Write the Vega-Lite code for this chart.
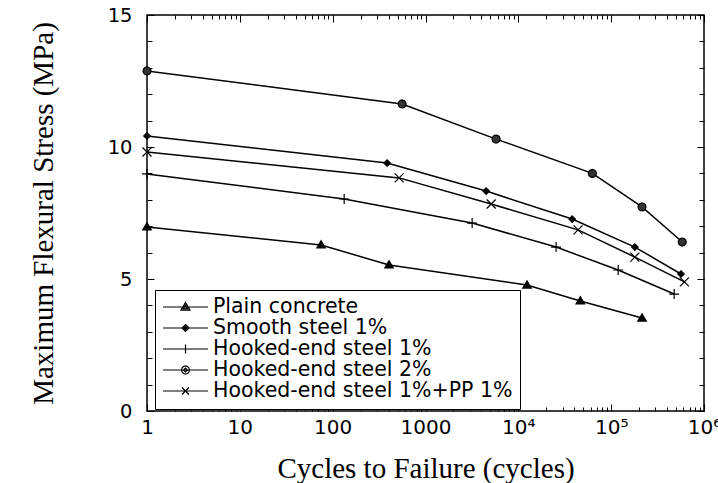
{
  "$schema": "https://vega.github.io/schema/vega-lite/v6.json",
  "width": 557,
  "height": 396,
  "autosize": {"type": "none"},
  "padding": {"left": 147, "top": 15, "right": 14, "bottom": 72},
  "background": "white",
  "config": {
    "view": {"stroke": "black", "strokeWidth": 1.5},
    "axis": {"domain": false, "grid": false, "tickColor": "black", "labelColor": "black", "titleColor": "black", "tickWidth": 1}
  },
  "data": {
    "values": [
      {"series": "Plain concrete", "cycles": 1, "stress": 6.97},
      {"series": "Plain concrete", "cycles": 75, "stress": 6.29},
      {"series": "Plain concrete", "cycles": 405, "stress": 5.53},
      {"series": "Plain concrete", "cycles": 12400, "stress": 4.77},
      {"series": "Plain concrete", "cycles": 46500, "stress": 4.17},
      {"series": "Plain concrete", "cycles": 215000, "stress": 3.52},
      {"series": "Smooth steel 1%", "cycles": 1, "stress": 10.42},
      {"series": "Smooth steel 1%", "cycles": 386, "stress": 9.39},
      {"series": "Smooth steel 1%", "cycles": 4500, "stress": 8.33},
      {"series": "Smooth steel 1%", "cycles": 38000, "stress": 7.27},
      {"series": "Smooth steel 1%", "cycles": 180000, "stress": 6.21},
      {"series": "Smooth steel 1%", "cycles": 565000, "stress": 5.19},
      {"series": "Hooked-end steel 1%", "cycles": 1, "stress": 8.98},
      {"series": "Hooked-end steel 1%", "cycles": 133, "stress": 8.03},
      {"series": "Hooked-end steel 1%", "cycles": 3180, "stress": 7.12},
      {"series": "Hooked-end steel 1%", "cycles": 25500, "stress": 6.21},
      {"series": "Hooked-end steel 1%", "cycles": 119000, "stress": 5.34},
      {"series": "Hooked-end steel 1%", "cycles": 477000, "stress": 4.43},
      {"series": "Hooked-end steel 2%", "cycles": 1, "stress": 12.88},
      {"series": "Hooked-end steel 2%", "cycles": 560, "stress": 11.63},
      {"series": "Hooked-end steel 2%", "cycles": 5760, "stress": 10.3},
      {"series": "Hooked-end steel 2%", "cycles": 62700, "stress": 9.0},
      {"series": "Hooked-end steel 2%", "cycles": 215000, "stress": 7.73},
      {"series": "Hooked-end steel 2%", "cycles": 583000, "stress": 6.4},
      {"series": "Hooked-end steel 1%+PP 1%", "cycles": 1, "stress": 9.81},
      {"series": "Hooked-end steel 1%+PP 1%", "cycles": 520, "stress": 8.83},
      {"series": "Hooked-end steel 1%+PP 1%", "cycles": 5100, "stress": 7.84},
      {"series": "Hooked-end steel 1%+PP 1%", "cycles": 44000, "stress": 6.86},
      {"series": "Hooked-end steel 1%+PP 1%", "cycles": 180000, "stress": 5.83},
      {"series": "Hooked-end steel 1%+PP 1%", "cycles": 615000, "stress": 4.89}
    ]
  },
  "layer": [
    {
      "mark": {"type": "line", "color": "black", "strokeWidth": 1.5},
      "encoding": {
        "x": {
          "field": "cycles", "type": "quantitative",
          "scale": {"type": "log", "domain": [1, 1000000], "nice": false},
          "axis": {
            "orient": "bottom", "values": [1, 10, 100, 1000, 10000, 100000, 1000000],
            "tickSize": -7, "labelFont": "DejaVu Sans", "labelFontSize": 20, "labelPadding": 13,
            "labelFlush": false, "labelOverlap": false,
            "labelExpr": "datum.value < 5000 ? format(datum.value, 'd') : '10' + (datum.value < 50000 ? '⁴' : datum.value < 500000 ? '⁵' : '⁶')",
            "title": "Cycles to Failure (cycles)", "titleFont": "Liberation Serif", "titleFontSize": 29,
            "titleFontWeight": "normal", "titleBaseline": "alphabetic", "titleY": 66
          }
        },
        "y": {
          "field": "stress", "type": "quantitative",
          "scale": {"domain": [0, 15], "nice": false, "zero": true},
          "axis": {
            "orient": "left", "values": [0, 5, 10, 15], "tickSize": -7,
            "labelFont": "DejaVu Sans", "labelFontSize": 19.5, "labelPadding": 22,
            "labelFlush": false, "labelOverlap": false,
            "title": "Maximum Flexural Stress (MPa)", "titleFont": "Liberation Serif", "titleFontSize": 29,
            "titleFontWeight": "normal", "titleX": -104, "titleY": 198, "titleBaseline": "middle", "titleAlign": "center", "titleAngle": -90
          }
        },
        "detail": {"field": "series"}
      }
    },
    {
      "transform": [{"filter": "datum.series == 'Plain concrete'"}],
      "mark": {"type": "point", "shape": "M0,-0.85L0.85,0.6L-0.85,0.6Z", "filled": true, "fill": "black", "stroke": "black", "strokeWidth": 1.2, "opacity": 1, "size": 100},
      "encoding": {
        "x": {"field": "cycles", "type": "quantitative",
          "axis": {"orient": "top", "values": [1, 10, 100, 1000, 10000, 100000, 1000000], "tickSize": -7, "labels": false, "title": null}},
        "y": {"field": "stress", "type": "quantitative",
          "axis": {"orient": "right", "values": [0, 5, 10, 15], "tickSize": -7, "labels": false, "title": null}}
      }
    },
    {
      "transform": [{"filter": "datum.series == 'Smooth steel 1%'"}],
      "mark": {"type": "point", "shape": "M0,-0.65L0.65,0L0,0.65L-0.65,0Z", "filled": true, "fill": "black", "stroke": "black", "strokeWidth": 1.2, "opacity": 1, "size": 100},
      "encoding": {
        "x": {"field": "cycles", "type": "quantitative",
          "axis": {"orient": "bottom", "values": [2,3,4,5,6,7,8,9,20,30,40,50,60,70,80,90,200,300,400,500,600,700,800,900,2000,3000,4000,5000,6000,7000,8000,9000,20000,30000,40000,50000,60000,70000,80000,90000,200000,300000,400000,500000,600000,700000,800000,900000], "tickSize": -4, "labels": false, "title": null}},
        "y": {"field": "stress", "type": "quantitative",
          "axis": {"orient": "left", "values": [1,2,3,4,6,7,8,9,11,12,13,14], "tickSize": -5, "labels": false, "title": null}}
      }
    },
    {
      "transform": [{"filter": "datum.series == 'Hooked-end steel 1%'"}],
      "mark": {"type": "point", "shape": "M-1,0H1M0,-1V1", "filled": true, "fill": "black", "stroke": "black", "strokeWidth": 1.2, "opacity": 1, "size": 100},
      "encoding": {
        "x": {"field": "cycles", "type": "quantitative",
          "axis": {"orient": "top", "values": [2,3,4,5,6,7,8,9,20,30,40,50,60,70,80,90,200,300,400,500,600,700,800,900,2000,3000,4000,5000,6000,7000,8000,9000,20000,30000,40000,50000,60000,70000,80000,90000,200000,300000,400000,500000,600000,700000,800000,900000], "tickSize": -4, "labels": false, "title": null}},
        "y": {"field": "stress", "type": "quantitative",
          "axis": {"orient": "right", "values": [1,2,3,4,6,7,8,9,11,12,13,14], "tickSize": -5, "labels": false, "title": null}}
      }
    },
    {
      "transform": [{"filter": "datum.series == 'Hooked-end steel 2%'"}],
      "mark": {"type": "point", "shape": "M0.8,0L0.693,0.4L0.4,0.693L0,0.8L-0.4,0.693L-0.693,0.4L-0.8,0L-0.693,-0.4L-0.4,-0.693L0,-0.8L0.4,-0.693L0.693,-0.4Z", "filled": true, "fill": "#333333", "stroke": "black", "strokeWidth": 1.2, "opacity": 1, "size": 100},
      "encoding": {
        "x": {"field": "cycles", "type": "quantitative", "axis": null},
        "y": {"field": "stress", "type": "quantitative", "axis": null}
      }
    },
    {
      "transform": [{"filter": "datum.series == 'Hooked-end steel 1%+PP 1%'"}],
      "mark": {"type": "point", "shape": "M-0.9,-0.9L0.9,0.9M-0.9,0.9L0.9,-0.9", "filled": true, "fill": "black", "stroke": "black", "strokeWidth": 1.2, "opacity": 1, "size": 100},
      "encoding": {
        "x": {"field": "cycles", "type": "quantitative", "axis": null},
        "y": {"field": "stress", "type": "quantitative", "axis": null}
      }
    },
    {
      "transform": [{"filter": "datum.cycles < 0"}],
      "mark": {"type": "point", "filled": false, "color": "black", "strokeWidth": 1.2, "opacity": 1, "size": 2025},
      "encoding": {
        "x": {"field": "cycles", "type": "quantitative", "axis": null},
        "y": {"field": "stress", "type": "quantitative", "axis": null},
        "shape": {
          "field": "series", "type": "nominal",
          "scale": {
            "domain": ["Plain concrete", "Smooth steel 1%", "Hooked-end steel 1%", "Hooked-end steel 2%", "Hooked-end steel 1%+PP 1%"],
            "range": [
              "M-1,0H1M0,-0.2L0.2,0.14L-0.2,0.14ZM0,-0.09L0.09,0.07L-0.09,0.07Z",
              "M-1,0H1M0,-0.155L0.155,0L0,0.155L-0.155,0ZM0,-0.07L0.07,0L0,0.07L-0.07,0Z",
              "M-1,0H1M0,-0.2V0.2",
              "M-1,0H1M0.178,0L0.154,0.089L0.089,0.154L0,0.178L-0.089,0.154L-0.154,0.089L-0.178,0L-0.154,-0.089L-0.089,-0.154L0,-0.178L0.089,-0.154L0.154,-0.089ZM0.09,0L0,0.09L-0.09,0L0,-0.09Z",
              "M-1,0H1M-0.155,-0.155L0.155,0.155M-0.155,0.155L0.155,-0.155"
            ]
          },
          "legend": {
            "orient": "none", "legendX": 8, "legendY": 275, "title": null,
            "labelFont": "DejaVu Sans", "labelFontSize": 20.5, "labelColor": "black", "labelLimit": 0,
            "symbolSize": 2025, "clipHeight": 20, "rowPadding": -1, "padding": 7,
            "strokeColor": "black", "fillColor": "white",
            "symbolStrokeWidth": 1.2, "symbolStrokeColor": "black", "symbolOpacity": 1
          }
        }
      }
    }
  ],
  "resolve": {"axis": {"x": "independent", "y": "independent"}}
}
